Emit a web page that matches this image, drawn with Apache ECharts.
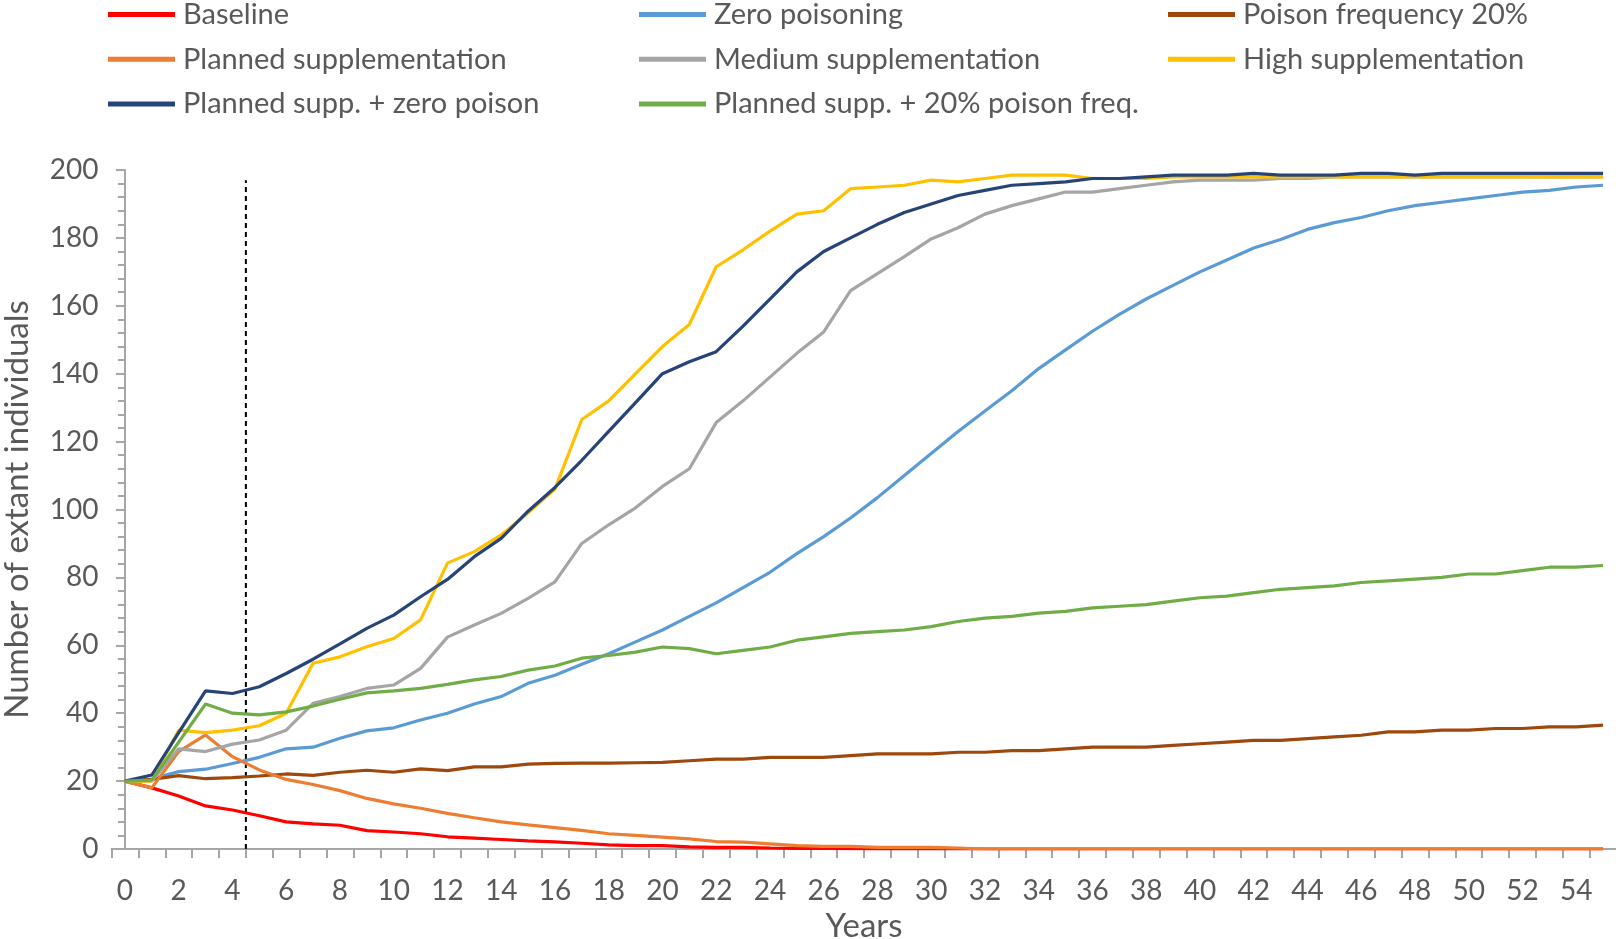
<!DOCTYPE html>
<html>
<head>
<meta charset="utf-8">
<script src="https://cdn.jsdelivr.net/npm/echarts@6/dist/echarts.min.js"></script>
<style>
html,body{margin:0;padding:0;background:#fff;}
#chart{width:1616px;height:939px;}
</style>
</head>
<body>
<div id="chart"></div>
<script>
const years = [0,1,2,3,4,5,6,7,8,9,10,11,12,13,14,15,16,17,18,19,20,21,22,23,24,25,26,27,28,29,30,31,32,33,34,35,36,37,38,39,40,41,42,43,44,45,46,47,48,49,50,51,52,53,54,55];

const baseline = [20,18,15.6,12.7,11.5,9.8,8,7.4,7,5.4,5,4.5,3.6,3.2,2.8,2.4,2.1,1.7,1.2,1,1,0.6,0.5,0.5,0.3,0.2,0.2,0.1,0,0,0,0,0,0,0,0,0,0,0,0,0,0,0,0,0,0,0,0,0,0,0,0,0,0,0,0];
const zeroPoisoning = [20,20.6,22.8,23.5,25.2,27,29.5,30,32.6,34.8,35.7,38,40,42.7,44.9,48.8,51.2,54.4,57.5,61,64.5,68.5,72.5,77,81.5,87,92,97.5,103.5,110,116.5,123,129,135,141.5,147,152.5,157.5,162,166,170,173.5,177,179.5,182.5,184.5,186,188,189.5,190.5,191.5,192.5,193.5,194,195,195.5];
const poisonFreq20 = [20,20.5,21.6,20.7,21,21.5,22.1,21.7,22.6,23.2,22.6,23.6,23.1,24.2,24.2,25,25.2,25.3,25.3,25.4,25.5,26,26.5,26.5,27,27,27,27.5,28,28,28,28.5,28.5,29,29,29.5,30,30,30,30.5,31,31.5,32,32,32.5,33,33.5,34.5,34.5,35,35,35.5,35.5,36,36,36.5];
const plannedSupp = [20,18,28.7,33.6,27.2,23.3,20.5,19,17.2,14.9,13.3,12,10.5,9.2,8,7.1,6.3,5.5,4.5,4,3.5,3,2.2,2,1.5,1,0.8,0.8,0.5,0.5,0.5,0.3,0,0,0,0,0,0,0,0,0,0,0,0,0,0,0,0,0,0,0,0,0,0,0,0];
const mediumSupp = [20,20,29.5,28.7,30.9,32.1,35,42.9,44.9,47.3,48.3,53.2,62.4,66,69.4,73.8,78.7,90,95.5,100.5,106.8,112,125.6,132,139,146,152.3,164.5,169.5,174.5,179.7,183,187,189.5,191.5,193.5,193.5,194.5,195.5,196.5,197,197,197,197.5,197.5,198,198,198,198,198,198,198,198,198,198,198];
const highSupp = [20,20,35,34.3,35,36.3,40,54.7,56.6,59.6,62,67.5,84.2,87.6,92.5,99,106,126.5,132,140,148,154.5,171.5,176.5,182,187,188,194.5,195,195.5,197,196.5,197.5,198.5,198.5,198.5,197.5,197.5,197.5,198,198,198,198,198,198,198,198,198,198,198,198,198,198,198,198,198];
const plannedZeroPoison = [20,21.8,34.3,46.6,45.8,47.8,51.7,55.9,60.4,65,68.9,74.3,79.4,86.1,91.5,99.5,106.5,114.5,123,131.5,140,143.5,146.5,154,162,170,176,180,184,187.5,190,192.5,194,195.5,196,196.5,197.5,197.5,198,198.5,198.5,198.5,199,198.5,198.5,198.5,199,199,198.5,199,199,199,199,199,199,199];
const planned20Poison = [20,20.3,31.5,42.7,40,39.5,40.4,42.1,44.1,46,46.6,47.3,48.5,49.8,50.8,52.7,53.9,56.2,57,58,59.5,59,57.5,58.5,59.5,61.5,62.5,63.5,64,64.5,65.5,67,68,68.5,69.5,70,71,71.5,72,73,74,74.5,75.5,76.5,77,77.5,78.5,79,79.5,80,81,81,82,83,83,83.5];

const cutoffYear = 4.5;
const cutoffTop = 197;

const seriesNames = ['Baseline','Zero poisoning','Poison frequency 20%','Planned supplementation','Medium supplementation','High supplementation','Planned supp. + zero poison','Planned supp. + 20% poison freq.'];
const seriesData = [baseline, zeroPoisoning, poisonFreq20, plannedSupp, mediumSupp, highSupp, plannedZeroPoison, planned20Poison];
const seriesColors = ['#FF0000','#5B9BD5','#9E480E','#ED7D31','#A5A5A5','#FFC000','#264478','#70AD47'];

const FONT = 'Lato';
const TXT = '#595959';
const AX = '#A6A6A6';

const chart = echarts.init(document.getElementById('chart'), null, {renderer:'canvas'});

const legendCommon = {
  orient:'vertical', top:0, padding:0, itemGap:15.8, itemWidth:67, itemHeight:5,
  icon:'rect', selectedMode:false,
  textStyle:{fontFamily:FONT, fontSize:29, color:TXT, padding:[0,0,0,3]}
};

const series = seriesNames.map((n,i)=>({
  name:n, type:'line', data:seriesData[i], symbol:'none', showSymbol:false,
  lineStyle:{width:3.2, color:seriesColors[i]}, itemStyle:{color:seriesColors[i]},
  xAxisIndex:0, yAxisIndex:0, z:2+i
}));
series.push({
  name:'cutoff', type:'line', xAxisIndex:1, yAxisIndex:0, symbol:'none', silent:true,
  data:[[cutoffYear,0],[cutoffYear,cutoffTop]],
  lineStyle:{color:'#000', width:2, type:[5,4]}, z:1
});

chart.setOption({
  animation:false,
  backgroundColor:'#fff',
  legend:[
    Object.assign({}, legendCommon, {left:108, data:['Baseline','Planned supplementation','Planned supp. + zero poison']}),
    Object.assign({}, legendCommon, {left:639, data:['Zero poisoning','Medium supplementation','Planned supp. + 20% poison freq.']}),
    Object.assign({}, legendCommon, {left:1168, data:['Poison frequency 20%','High supplementation']})
  ],
  grid:{left:111.5, top:170, width:1505, bottom:90, containLabel:false, outerBoundsMode:'none'},
  xAxis:[{
    type:'category', data:years, boundaryGap:true,
    name:'Years', nameLocation:'middle', nameGap:59,
    nameTextStyle:{fontFamily:FONT, fontSize:33, color:TXT},
    axisLine:{lineStyle:{color:AX, width:2}},
    axisTick:{show:true, interval:0, length:9, lineStyle:{color:AX, width:2}},
    axisLabel:{interval:1, fontFamily:FONT, fontSize:28, color:TXT, margin:28},
    splitLine:{show:false}
  },{
    type:'value', min:-0.5, max:55.5, show:false
  }],
  yAxis:{
    type:'value', min:0, max:200, interval:20,
    name:'Number of extant individuals', nameLocation:'middle', nameGap:78, nameRotate:90,
    nameTextStyle:{fontFamily:FONT, fontSize:33, color:TXT},
    axisLine:{show:true, lineStyle:{color:AX, width:2}},
    axisTick:{show:true, length:9, lineStyle:{color:AX, width:2}},
    minorTick:{show:true, splitNumber:5, length:7, lineStyle:{color:AX, width:2}},
    axisLabel:{fontFamily:FONT, fontSize:28, color:TXT, margin:13},
    splitLine:{show:false}
  },
  series:series
});
</script>
</body>
</html>
